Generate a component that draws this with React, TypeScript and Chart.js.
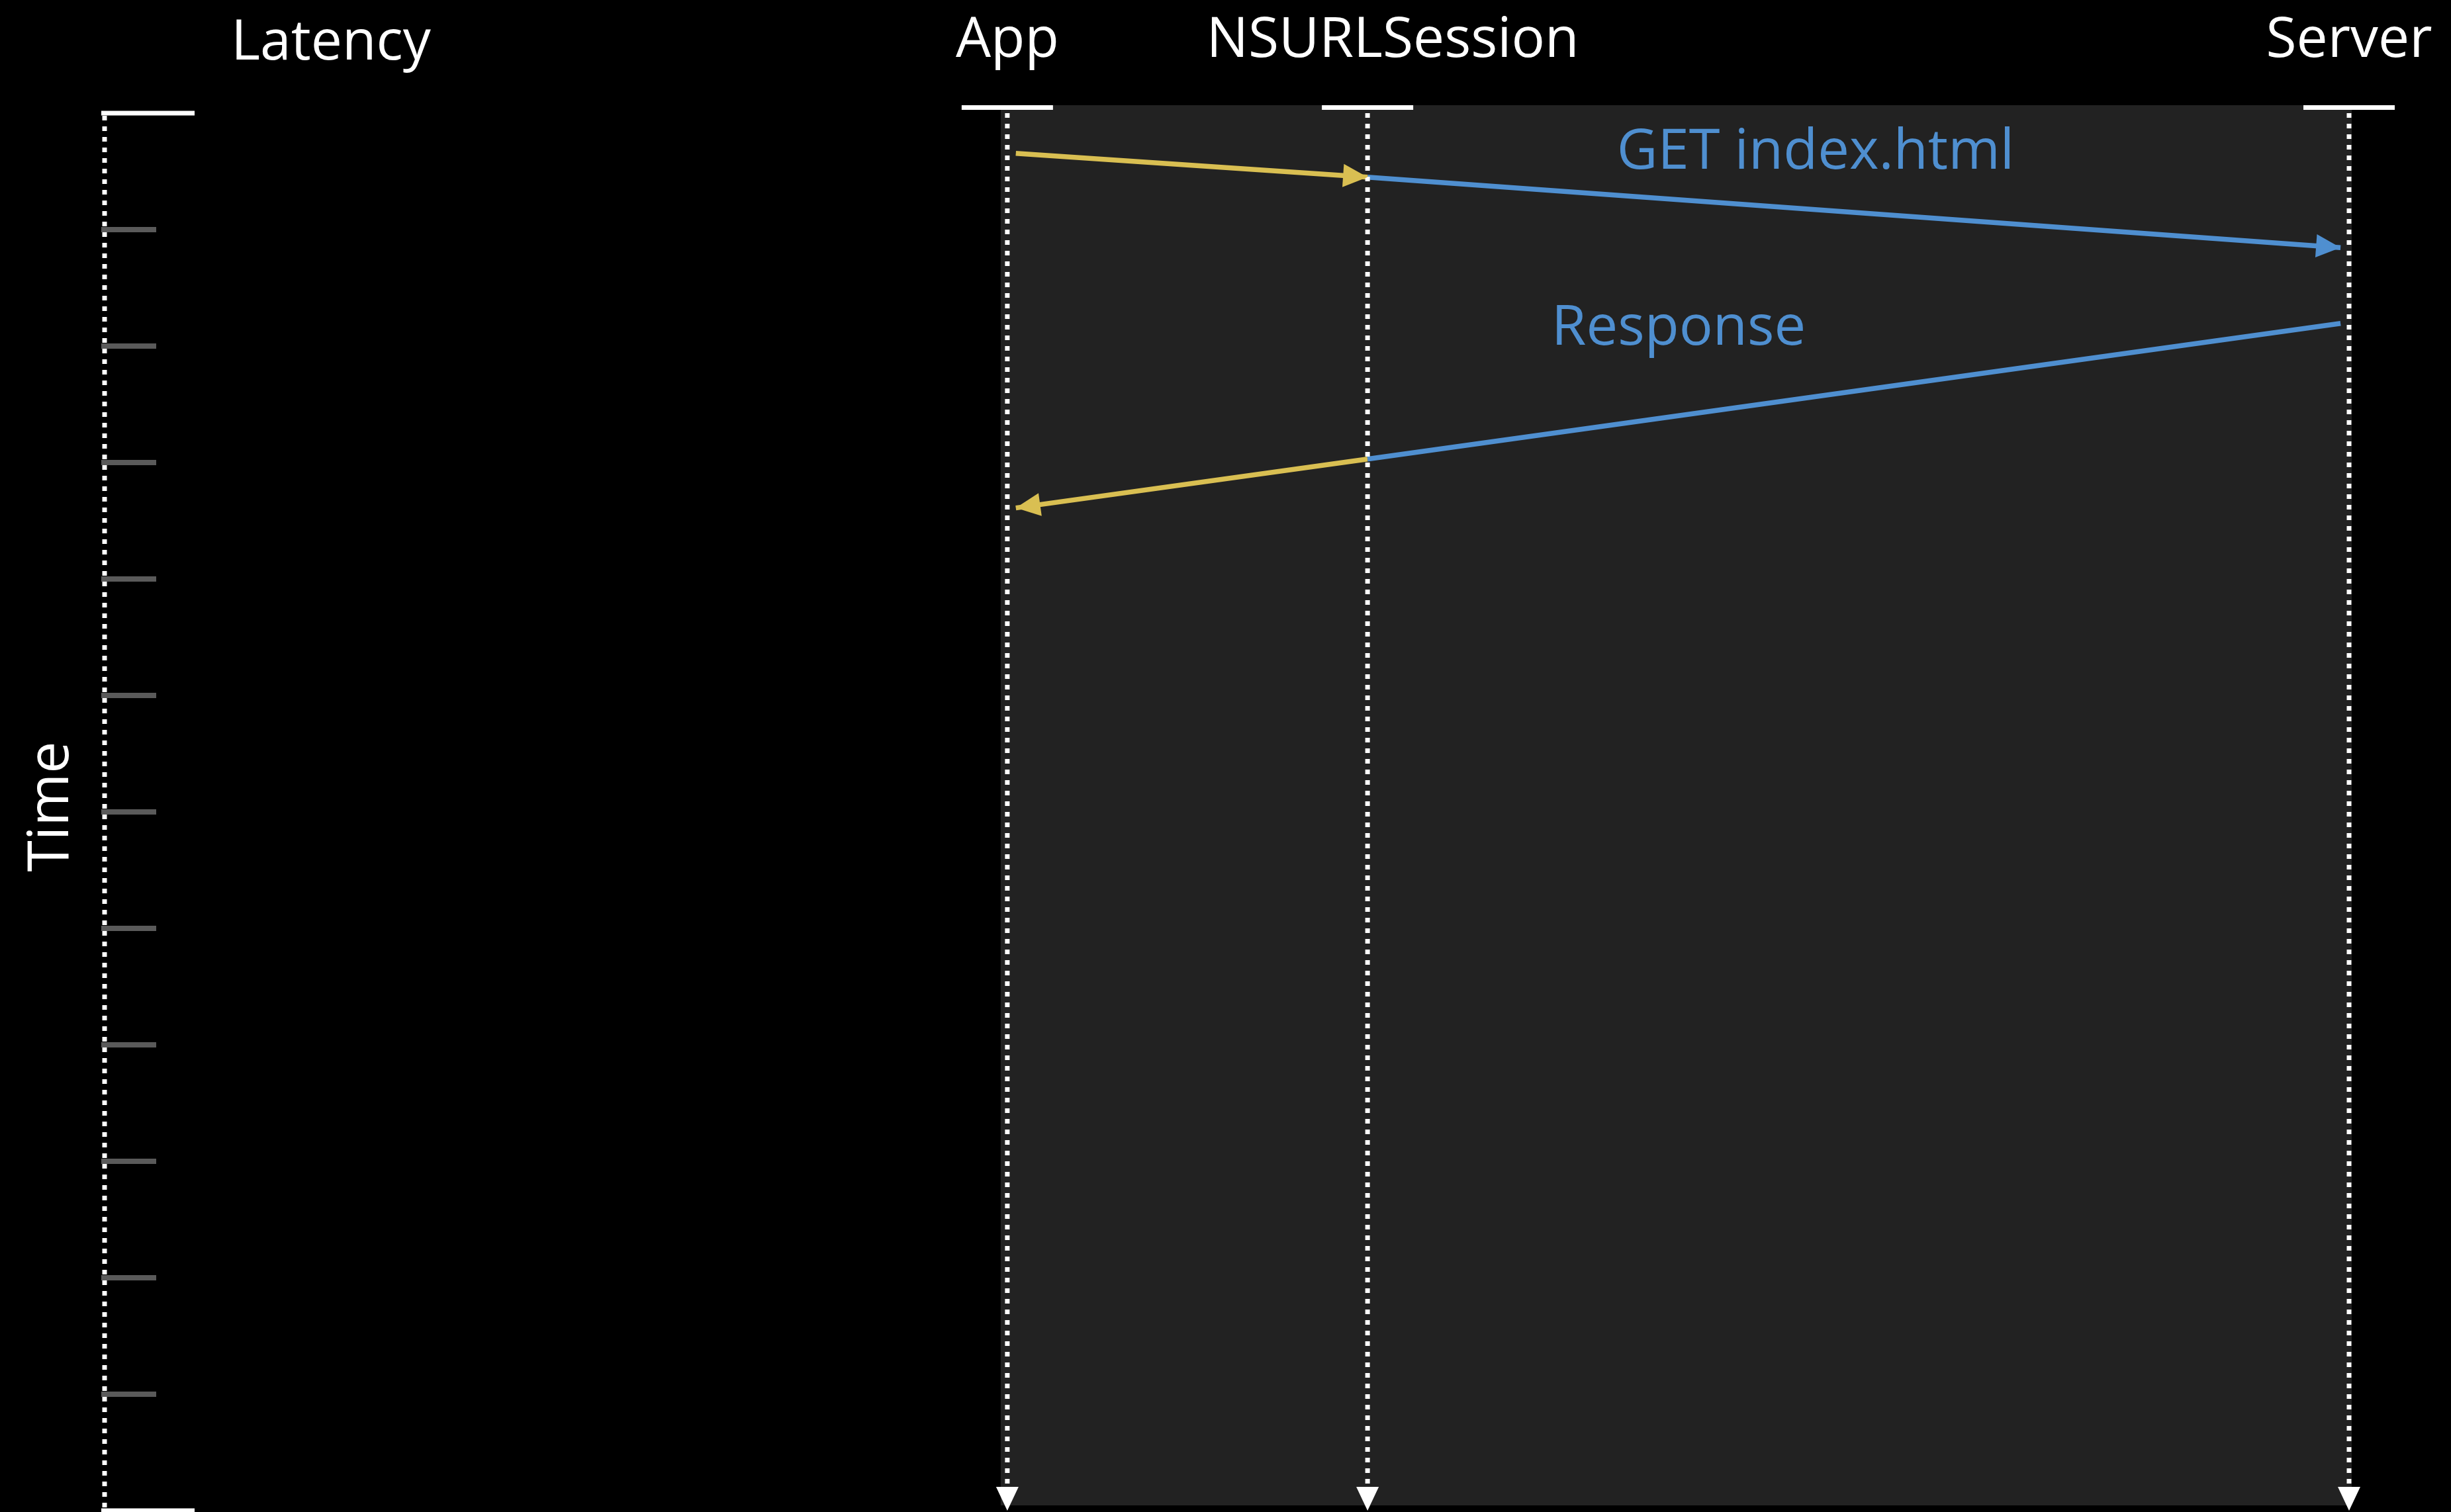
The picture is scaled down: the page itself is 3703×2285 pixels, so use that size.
import React, { useEffect, useRef } from 'react';
import { Chart, registerables } from 'chart.js';

Chart.register(...registerables);

// ---- data ----
const participants = ['App', 'NSURLSession', 'Server'];
const participantLane = [40.22, 56.27, 100]; // lifeline position on the x scale
const laneInset = [true, false, true]; // arrows stop short of these lifelines
const timeTicks = [0, 1, 2, 3, 4, 5, 6, 7, 8, 9, 10, 11, 12];
const timeMax = 12;
const axisTitle = 'Time';
const axisHeader = 'Latency';

const messageFrom = [0, 1, 2, 1];
const messageTo = [1, 2, 1, 0];
const messageStartTime = [0.34, 0.55, 1.795, 2.97];
const messageEndTime = [0.55, 1.16, 2.97, 3.4];
const messageKind = ['app', 'network', 'network', 'app'];
const messageArrow = [true, true, false, true];

const messageLabels = ['GET index.html', 'Response'];
const messageLabelX = [76.23, 70.13];
const messageLabelTime = [0.477, 1.99];

// ---- style ----
const YELLOW = '#D9BF52';
const BLUE = '#4F8FD0';
const PANEL = '#222222';
const INSET_UNITS = 0.38;
const FONT = '"Open Sans", "Noto Sans", sans-serif';

function buildDatasets() {
  const sets: any[] = [];
  participants.forEach((name, i) => {
    sets.push({
      label: name,
      data: [
        { x: participantLane[i], y: 0 },
        { x: participantLane[i], y: timeMax },
      ],
      showLine: true,
      borderColor: '#FFFFFF',
      borderWidth: 7,
      borderDash: [7, 9],
      borderCapStyle: 'butt',
      pointRadius: 0,
      clip: false,
      arrowHead: { len: 36, width: 34, color: '#FFFFFF' },
    });
  });
  messageFrom.forEach((f, i) => {
    const t = messageTo[i];
    let x0 = participantLane[f];
    let x1 = participantLane[t];
    let y0 = messageStartTime[i];
    let y1 = messageEndTime[i];
    const dx = x1 - x0;
    const dy = y1 - y0;
    const dir = Math.sign(dx);
    if (laneInset[f]) {
      const nx = x0 + dir * INSET_UNITS;
      y0 = y0 + (dy * (nx - x0)) / dx;
      x0 = nx;
    }
    if (laneInset[t]) {
      const nx = x1 - dir * INSET_UNITS;
      y1 = y1 - (dy * (x1 - nx)) / dx;
      x1 = nx;
    }
    const color = messageKind[i] === 'app' ? YELLOW : BLUE;
    sets.push({
      label: 'msg' + i,
      data: [
        { x: x0, y: y0 },
        { x: x1, y: y1 },
      ],
      showLine: true,
      borderColor: color,
      borderWidth: 7.5,
      pointRadius: 0,
      clip: false,
      arrowHead: messageArrow[i] ? { len: 37, width: 35, color } : null,
    });
  });
  return sets;
}

const diagramPlugin = {
  id: 'diagram',
  beforeDraw(chart: any) {
    const ctx = chart.ctx;
    ctx.save();
    ctx.fillStyle = '#000000';
    ctx.fillRect(0, 0, chart.width, chart.height);
    ctx.restore();
  },
  beforeDatasetsDraw(chart: any) {
    const ctx = chart.ctx;
    const xs = chart.scales.x;
    const ys = chart.scales.y;
    const y0 = ys.getPixelForValue(0);
    const yEnd = ys.getPixelForValue(timeMax);
    ctx.save();
    // panel behind the lifelines
    const left = xs.getPixelForValue(participantLane[0]) - 10;
    const right = xs.getPixelForValue(participantLane[participantLane.length - 1]) + 4;
    ctx.fillStyle = PANEL;
    ctx.fillRect(left, y0 - 12, right - left, yEnd - 8 - (y0 - 12));

    // time axis
    const ax = xs.getPixelForValue(0);
    ctx.fillStyle = '#5A5A5A';
    timeTicks.forEach((t) => {
      if (t === 0 || t === timeMax) return;
      const y = ys.getPixelForValue(t);
      ctx.fillRect(ax - 5, y - 4, 83, 8);
    });
    ctx.strokeStyle = '#FFFFFF';
    ctx.lineWidth = 7;
    ctx.lineCap = 'butt';
    ctx.setLineDash([7, 9]);
    ctx.beginPath();
    ctx.moveTo(ax, y0 + 4);
    ctx.lineTo(ax, yEnd);
    ctx.stroke();
    ctx.setLineDash([]);
    ctx.fillStyle = '#FFFFFF';
    ctx.fillRect(ax - 5, y0 - 3.5, 141, 7);
    ctx.fillRect(ax - 5, yEnd - 3.5, 141, 7);

    // lifeline head bars
    participantLane.forEach((lane) => {
      const px = xs.getPixelForValue(lane);
      ctx.fillRect(px - 69, y0 - 12, 138, 7);
    });
    ctx.restore();
  },
  afterDatasetsDraw(chart: any) {
    const ctx = chart.ctx;
    const xs = chart.scales.x;
    const ys = chart.scales.y;
    ctx.save();
    chart.data.datasets.forEach((ds: any, i: number) => {
      if (!ds.arrowHead) return;
      const pts = chart.getDatasetMeta(i).data;
      const p1 = pts[pts.length - 1];
      const p0 = pts[pts.length - 2];
      const a = Math.atan2(p1.y - p0.y, p1.x - p0.x);
      const { len, width, color } = ds.arrowHead;
      const bx = p1.x - len * Math.cos(a);
      const by = p1.y - len * Math.sin(a);
      const nx = -Math.sin(a) * (width / 2);
      const ny = Math.cos(a) * (width / 2);
      ctx.fillStyle = color;
      ctx.beginPath();
      ctx.moveTo(p1.x, p1.y);
      ctx.lineTo(bx + nx, by + ny);
      ctx.lineTo(bx - nx, by - ny);
      ctx.closePath();
      ctx.fill();
    });

    const y0 = ys.getPixelForValue(0);
    ctx.font = `84px ${FONT}`;
    ctx.textBaseline = 'alphabetic';
    ctx.textAlign = 'center';
    ctx.fillStyle = '#FFFFFF';
    const labelDx = [0, 38, 0];
    participants.forEach((name, i) => {
      ctx.fillText(name, xs.getPixelForValue(participantLane[i]) + labelDx[i], y0 - 85);
    });
    const ax = xs.getPixelForValue(0);
    ctx.fillText(axisHeader, ax + 342, y0 - 81);

    ctx.save();
    ctx.font = `86px ${FONT}`;
    ctx.translate(ax - 55, ys.getPixelForValue(timeMax / 2) - 8);
    ctx.rotate(-Math.PI / 2);
    ctx.fillText(axisTitle, 0, 0);
    ctx.restore();

    ctx.font = `85px ${FONT}`;
    ctx.fillStyle = BLUE;
    messageLabels.forEach((txt, i) => {
      ctx.fillText(txt, xs.getPixelForValue(messageLabelX[i]), ys.getPixelForValue(messageLabelTime[i]));
    });
    ctx.restore();
  },
};

export default function App() {
  const canvasRef = useRef<HTMLCanvasElement | null>(null);
  useEffect(() => {
    document.body.style.margin = '0';
    document.body.style.background = '#000000';
    const canvas = canvasRef.current;
    if (!canvas) return;
    const chart = new Chart(canvas, {
      type: 'scatter',
      data: { datasets: buildDatasets() },
      options: {
        animation: false,
        responsive: true,
        maintainAspectRatio: false,
        devicePixelRatio: 1,
        events: [],
        layout: { padding: { left: 158, right: 154, top: 171, bottom: 2 } },
        scales: {
          x: { type: 'linear', min: 0, max: 100, display: false },
          y: { type: 'linear', min: 0, max: timeMax, reverse: true, display: false },
        },
        plugins: { legend: { display: false }, tooltip: { enabled: false } },
      },
      plugins: [diagramPlugin],
    } as any);
    return () => chart.destroy();
  }, []);
  return (
    <div style={{ position: 'relative', width: '3703px', height: '2285px', background: '#000' }}>
      <canvas ref={canvasRef} />
    </div>
  );
}
